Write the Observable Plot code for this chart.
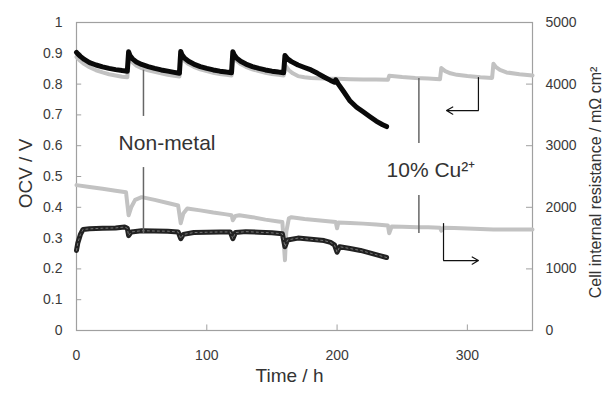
<!DOCTYPE html>
<html>
<head>
<meta charset="utf-8">
<script src="https://cdn.jsdelivr.net/npm/d3@7"></script>
<script src="https://cdn.jsdelivr.net/npm/@observablehq/plot@0.6"></script>
<style>
  html, body { margin: 0; padding: 0; background: #fff; }
</style>
</head>
<body>
<div id="chart"></div>
<script>
// ---- Data ----
const ocvTicks = [0, 0.1, 0.2, 0.3, 0.4, 0.5, 0.6, 0.7, 0.8, 0.9, 1];
const resTicks = [0, 1000, 2000, 3000, 4000, 5000];
const timeTicks = [0, 100, 200, 300];
const resMax = 5000;

// OCV, non-metal (black)
const ocvNonMetalT = [0,1,3,6,10,15,20,25,30,35,39,
  40,41,43,46,50,55,60,65,70,75,79,
  80,81,83,86,90,95,100,105,110,115,119,
  120,121,123,126,130,135,140,145,150,155,159,
  160,162,165,170,175,180,185,190,195,198,199,201,205,210,215,220,225,230,235,238];
const ocvNonMetalV = [0.903,0.898,0.89,0.88,0.87,0.862,0.856,0.851,0.847,0.844,0.842,
  0.905,0.893,0.882,0.872,0.864,0.857,0.851,0.846,0.842,0.838,0.835,
  0.906,0.895,0.884,0.874,0.865,0.857,0.851,0.846,0.842,0.839,0.837,
  0.905,0.895,0.884,0.874,0.865,0.857,0.851,0.846,0.842,0.839,0.837,
  0.893,0.882,0.873,0.862,0.854,0.846,0.835,0.823,0.812,0.806,0.814,0.8,0.776,0.745,0.725,0.71,0.695,0.68,0.668,0.662];

// OCV, 10% Cu2+ (grey)
const ocvCuT = [0,3,6,10,15,20,25,30,35,39,
  40,43,46,50,55,60,65,70,75,79,
  80,83,86,90,95,100,105,110,115,119,
  120,123,126,130,135,140,145,150,155,159,
  160,163,166,170,175,180,190,200,210,220,230,239,
  240,250,260,270,279,
  280,283,287,292,300,310,319,
  320,322,325,330,340,350];
const ocvCuV = [0.888,0.875,0.865,0.855,0.845,0.838,0.832,0.828,0.824,0.822,
  0.89,0.87,0.86,0.852,0.845,0.84,0.835,0.83,0.827,0.825,
  0.893,0.875,0.865,0.856,0.848,0.842,0.837,0.833,0.83,0.828,
  0.893,0.875,0.865,0.856,0.848,0.842,0.837,0.833,0.83,0.828,
  0.862,0.845,0.835,0.826,0.822,0.82,0.818,0.817,0.816,0.815,0.815,0.814,
  0.827,0.823,0.82,0.818,0.816,
  0.852,0.842,0.835,0.83,0.826,0.822,0.82,
  0.866,0.855,0.846,0.838,0.832,0.828];

// Cell internal resistance, non-metal (black), mOhm cm2
const resNonMetalT = [0,1,3,5,10,20,30,37,39,40,42,50,60,70,78,80,82,90,100,110,118,
  120,122,130,140,150,158,160,162,170,180,190,195,198,200,202,210,218,225,232,238];
const resNonMetalV = [1300,1420,1560,1640,1650,1660,1665,1680,1660,1540,1600,1620,1615,1612,1600,1490,1560,1590,1595,1600,1600,
  1490,1590,1605,1595,1585,1570,1360,1470,1500,1480,1460,1430,1390,1270,1360,1330,1300,1260,1220,1185];

// Cell internal resistance, 10% Cu2+ (grey)
const resCuT = [0,10,20,30,38,40,42,45,50,60,70,78,80,82,85,95,105,115,119,120,122,125,135,145,155,158,
  160,161,163,165,175,185,195,199,200,201,210,220,230,239,240,242,250,262,270,279,280,282,290,300,310,320,330,340,350];
const resCuV = [2360,2330,2300,2270,2245,1870,2000,2120,2165,2120,2070,2030,1740,1900,1980,1950,1915,1885,1870,1790,1860,1870,1840,1800,1770,1760,
  1140,1600,1820,1840,1810,1790,1770,1760,1660,1755,1745,1735,1720,1705,1580,1690,1685,1677,1675,1670,1620,1670,1665,1655,1648,1640,1640,1640,1638];

// Annotations (data coordinates: time, OCV)
const labelTexts = ["Non-metal", "10% Cu²⁺"];
const labelT = [69.5, 272];
const labelV = [0.607, 0.52];
const leaderT = [51.4, 51.4, 262.8, 262.8];
const leaderV1 = [0.845, 0.529, 0.818, 0.438];
const leaderV2 = [0.695, 0.315, 0.607, 0.315];
// L-shaped arrows: vertical part then horizontal arrow
const arrowVertT = [308.5, 281.7];
const arrowVertV1 = [0.821, 0.347];
const arrowVertV2 = [0.714, 0.227];
const arrowT1 = [308.5, 281.7];
const arrowT2 = [284.0, 308.5];
const arrowV = [0.714, 0.227];

// ---- Build tables ----
const zip = (ts, vs) => ts.map((t, i) => ({t, v: vs[i]}));
const ocvNM = zip(ocvNonMetalT, ocvNonMetalV);
const ocvCu = zip(ocvCuT, ocvCuV);
const resNM = zip(resNonMetalT, resNonMetalV.map(r => r / resMax));
const resCu = zip(resCuT, resCuV.map(r => r / resMax));
const labels = labelTexts.map((s, i) => ({s, t: labelT[i], v: labelV[i]}));
const leaders = leaderT.map((t, i) => ({t, v1: leaderV1[i], v2: leaderV2[i]}));
const arrVert = arrowVertT.map((t, i) => ({t, v1: arrowVertV1[i], v2: arrowVertV2[i]}));
const arrH = arrowT1.map((t1, i) => ({t1, t2: arrowT2[i], v: arrowV[i]}));

const chart = Plot.plot({
  width: 606,
  height: 393,
  marginLeft: 76,
  marginRight: 74,
  marginTop: 22,
  marginBottom: 63,
  style: {fontFamily: "'Liberation Sans', Arial, sans-serif", fontSize: "14px", color: "#333", background: "#fff"},
  x: {domain: [0, 350]},
  y: {domain: [0, 1]},
  marks: [
    Plot.frame({stroke: "#a0a0a0", strokeWidth: 1.2}),
    Plot.axisX({ticks: timeTicks, tickSize: 0, tickPadding: 20, label: null, fill: "#3a3a3a"}),
    Plot.axisY({ticks: ocvTicks, tickSize: 0, tickPadding: 14, tickFormat: d => String(d), label: null, fill: "#3a3a3a"}),
    Plot.axisY({anchor: "right", ticks: resTicks.map(r => r / resMax), tickSize: 0, tickPadding: 13,
      tickFormat: d => String(Math.round(d * resMax)), label: null, fill: "#3a3a3a"}),
    Plot.ruleY(ocvTicks, {x1: 0, x2: 4, stroke: "#a0a0a0"}),
    Plot.ruleY(resTicks.map(r => r / resMax), {x1: 345.4, x2: 350, stroke: "#a0a0a0"}),
    Plot.ruleX(timeTicks, {y1: 0, y2: 0.018, stroke: "#a0a0a0"}),
    // grey series (10% Cu2+)
    Plot.line(ocvCu, {x: "t", y: "v", stroke: "#c2c2c2", strokeWidth: 4}),
    Plot.line(resCu, {x: "t", y: "v", stroke: "#c2c2c2", strokeWidth: 4}),
    // black series (non-metal)
    Plot.line(ocvNM, {x: "t", y: "v", stroke: "#0a0a0a", strokeWidth: 5}),
    Plot.line(resNM, {x: "t", y: "v", stroke: "#222", strokeWidth: 5}),
    Plot.line(resNM, {x: "t", y: "v", stroke: "#777", strokeWidth: 1, strokeDasharray: "2,3"}),
    // annotations
    Plot.ruleX(leaders, {x: "t", y1: "v1", y2: "v2", stroke: "#666", strokeWidth: 1.5}),
    Plot.ruleX(arrVert, {x: "t", y1: "v1", y2: "v2", stroke: "#111", strokeWidth: 1.2}),
    Plot.arrow(arrH, {x1: "t1", x2: "t2", y1: "v", y2: "v", stroke: "#111", strokeWidth: 1.2, headLength: 9}),
    Plot.text(labels, {x: "t", y: "v", text: "s", fontSize: 21, fill: "#333"}),
    // axis titles
    Plot.text(["OCV / V"], {frameAnchor: "left", textAnchor: "middle", dx: -51, dy: -3, rotate: -90, fontSize: 19, fill: "#333"}),
    Plot.text(["Time / h"], {frameAnchor: "bottom", textAnchor: "middle", dx: -15, dy: 51, fontSize: 19, fill: "#333"}),
    Plot.text(["Cell internal resistance / mΩ cm²"], {frameAnchor: "right", textAnchor: "middle", dx: 63, dy: 6, rotate: -90, fontSize: 16, fill: "#333"})
  ]
});
document.getElementById("chart").appendChild(chart);
</script>
</body>
</html>
